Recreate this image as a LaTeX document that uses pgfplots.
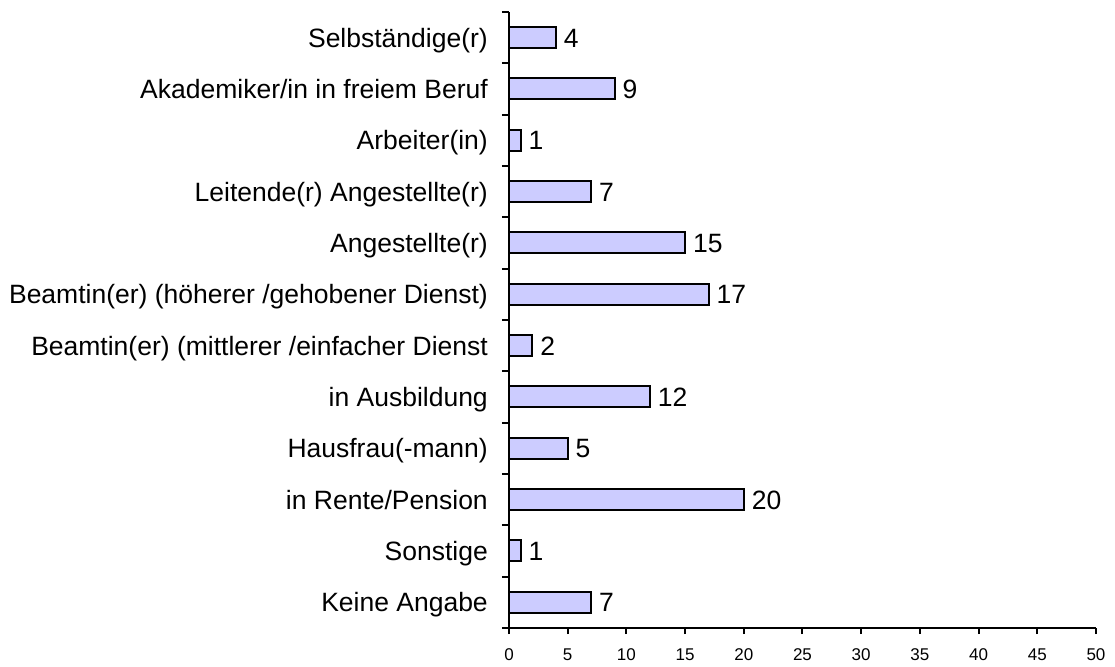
\documentclass[border=0pt]{standalone}
\usepackage{fontspec}
\setmainfont{Liberation Sans}
\usepackage{pgfplots}
\pgfplotsset{compat=1.18}
\definecolor{barfill}{HTML}{CCCCFF}
\begin{document}
\begin{tikzpicture}
\begin{axis}[
  at={(0,0)}, anchor=south west,
  scale only axis, width=587pt, height=616pt,
  xbar, bar width=21pt,
  xmin=0, xmax=50, ymin=-0.5, ymax=11.5,
  axis lines*=left,
  axis line style={line width=2pt},
  tick align=outside,
  xtick={0,5,...,50},
  major tick length=6pt,
  every tick/.style={black, line width=2pt},
  x tick label style={font=\fontsize{17}{19}\selectfont, inner sep=0pt, anchor=north, text height=12pt, text depth=0pt, yshift=-14pt},
  /pgf/number format/assume math mode=true,
  ytick={0,...,11},
  y tick label style={font=\fontsize{26.5}{30}\selectfont, inner sep=0pt, anchor=base east, xshift=-15pt, yshift=-9.5pt},
  yticklabels={Keine Angabe, Sonstige, in Rente/Pension, Hausfrau(-mann), in Ausbildung,
    Beamtin(er) (mittlerer /einfacher Dienst, Beamtin(er) (höherer /gehobener Dienst),
    Angestellte(r), Leitende(r) Angestellte(r), Arbeiter(in), Akademiker/in in freiem Beruf,
    Selbständige(r)},
  ytick style={draw=none},
  extra y ticks={-0.5,0.5,...,11.5},
  extra y tick labels={},
  extra y tick style={major tick length=7pt, ytick style={draw=black, line width=2pt}},
  nodes near coords,
  nodes near coords style={font=\fontsize{26.5}{30}\selectfont, anchor=base west, inner sep=0pt, xshift=7pt, yshift=-9.5pt},
  clip=false,
]
\addplot[fill=barfill, draw=black, line width=2pt] coordinates {
  (7,0) (1,1) (20,2) (5,3) (12,4) (2,5) (17,6) (15,7) (7,8) (1,9) (9,10) (4,11)
};
\end{axis}
\pgfresetboundingbox
\useasboundingbox (-509pt,-38pt) rectangle (606pt,628pt);
\end{tikzpicture}
\end{document}
